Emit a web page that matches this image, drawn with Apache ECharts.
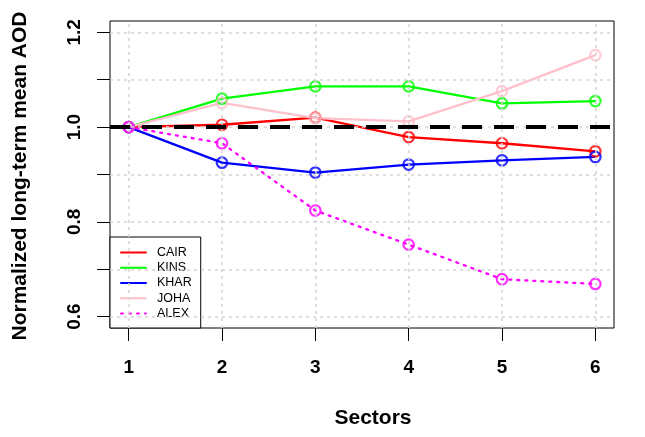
<!DOCTYPE html>
<html><head><meta charset="utf-8">
<script src="https://cdn.jsdelivr.net/npm/echarts@6/dist/echarts.min.js"></script>
<style>html,body{margin:0;padding:0;background:#fff}#c{width:645px;height:437px}</style>
</head><body><div id="c"></div>
<script>
var sectors = [1, 2, 3, 4, 5, 6];
var CAIR = [1.000, 1.005, 1.020, 0.979, 0.966, 0.949];
var KINS = [1.000, 1.060, 1.086, 1.086, 1.050, 1.055];
var KHAR = [1.000, 0.925, 0.904, 0.921, 0.930, 0.937];
var JOHA = [1.000, 1.051, 1.019, 1.012, 1.076, 1.152];
var ALEX = [1.000, 0.966, 0.824, 0.752, 0.679, 0.669];
var xTicks = [1, 2, 3, 4, 5, 6];
var yTicks = [0.6, 0.7, 0.8, 0.9, 1.0, 1.1, 1.2];
var yLabels = [0.6, 0.8, 1.0, 1.2];
var refValue = 1.0;

var names = ['CAIR', 'KINS', 'KHAR', 'JOHA', 'ALEX'];
var values = [CAIR, KINS, KHAR, JOHA, ALEX];
var colors = ['#FF0000', '#00FF00', '#0000FF', '#FFC0CB', '#FF00FF'];
function pts(arr) { return sectors.map(function (s, i) { return [s, arr[i]]; }); }

var series = [];
// grid lines
series.push({
  type: 'line', name: '_grid', data: [], z: 1, silent: true,
  markLine: {
    silent: true, symbol: 'none', animation: false,
    label: { show: false },
    lineStyle: { color: '#D3D3D3', type: [3, 4], width: 1.5 },
    data: xTicks.map(function (v) { return { xAxis: v }; })
      .concat(yTicks.map(function (v) { return { yAxis: v }; }))
  }
});
names.forEach(function (n, i) {
  series.push({
    type: 'line', name: n, data: pts(values[i]), z: 2,
    symbol: 'none', animation: false,
    lineStyle: { color: colors[i], width: 2.3, type: n === 'ALEX' ? [2, 6] : 'solid', cap: 'round' },
    itemStyle: { color: colors[i] }
  });
});
// reference line
series.push({
  type: 'line', name: '_ref', data: [], z: 3, silent: true,
  markLine: {
    silent: true, symbol: 'none', animation: false,
    label: { show: false },
    lineStyle: { color: '#000', type: [20, 12], width: 4 },
    data: [{ yAxis: refValue }]
  }
});
names.forEach(function (n, i) {
  series.push({
    type: 'scatter', name: n + '_pts', data: pts(values[i]), z: 4,
    symbol: 'circle', symbolSize: 10.5, animation: false,
    itemStyle: { color: 'transparent', borderColor: colors[i], borderWidth: 2.2 }
  });
});

var chart = echarts.init(document.getElementById('c'));
chart.setOption({
  animation: false,
  backgroundColor: '#fff',
  grid: { left: 110, right: 31, top: 21, bottom: 109, show: true, borderColor: '#000', borderWidth: 1, backgroundColor: 'transparent' },
  xAxis: {
    type: 'value', min: 0.8, max: 6.2,
    axisLine: { show: false },
    axisTick: { show: true, customValues: xTicks, length: 13, lineStyle: { color: '#000', width: 1 } },
    axisLabel: { customValues: xTicks, margin: 30, fontSize: 19, fontWeight: 'bold', color: '#000', fontFamily: 'Liberation Sans, Arial, sans-serif' },
    splitLine: { show: false }
  },
  yAxis: {
    type: 'value', min: 0.576, max: 1.224,
    axisLine: { show: false },
    axisTick: { show: true, customValues: yTicks, length: 13, lineStyle: { color: '#000', width: 1 } },
    axisLabel: { customValues: yLabels, rotate: 90, margin: 26, fontSize: 19, fontWeight: 'bold', color: '#000',
      fontFamily: 'Liberation Sans, Arial, sans-serif',
      formatter: function (v) { return v.toFixed(1); } },
    splitLine: { show: false }
  },
  legend: {
    data: names, orient: 'vertical', left: 110, top: 237,
    padding: [9, 9, 8, 10], itemGap: 2.25, itemWidth: 25, itemHeight: 12,
    backgroundColor: '#fff', borderColor: '#000', borderWidth: 1, borderRadius: 0,
    itemStyle: { opacity: 0, color: 'transparent', borderColor: 'transparent', borderWidth: 0 },
    textStyle: { fontSize: 12.5, color: '#000', fontFamily: 'Liberation Sans, Arial, sans-serif', padding: [0, 0, 0, 6] },
    selectedMode: false
  },
  graphic: [
    { type: 'text', x: 373, y: 418, style: { text: 'Sectors', font: 'bold 21px "Liberation Sans", Arial, sans-serif', fill: '#000', textAlign: 'center', textVerticalAlign: 'middle' } },
    { type: 'text', x: 20, y: 176, rotation: Math.PI / 2, style: { text: 'Normalized long-term mean AOD', font: 'bold 21px "Liberation Sans", Arial, sans-serif', fill: '#000', textAlign: 'center', textVerticalAlign: 'middle' } }
  ],
  series: series
});
</script></body></html>
